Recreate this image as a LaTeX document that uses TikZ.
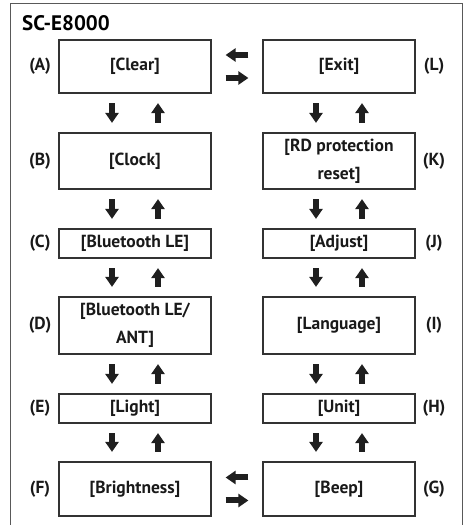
\documentclass[tikz,border=0pt]{standalone}
\usepackage{fontspec}
\setmainfont{PT Sans}
\usetikzlibrary{arrows.meta}
\begin{document}
\begin{tikzpicture}[x=1pt,y=1pt,
  box/.style={draw=black!80, line width=1.2pt, minimum width=152pt, inner sep=0pt, align=center,
    font=\fontsize{17.5}{28}\selectfont\bfseries, text=black!90},
  lbl/.style={font=\fontsize{17.5}{18}\selectfont\bfseries, text=black!90, inner sep=0pt},
  blk/.style={line width=6pt, line cap=butt, draw=black!88,
    -{Triangle[width=13pt,length=10pt]}, shorten >=9.5pt, shorten <=9.5pt},
  hblk/.style={line width=6pt, line cap=butt, draw=black!88,
    -{Triangle[width=13pt,length=10pt]}, shorten >=14pt, shorten <=14pt}
]
\useasboundingbox (0,0) rectangle (465,525);
% outer frame (open at bottom)
\draw[black!65, line width=1pt] (10,-2) -- (10,521) -- (462,521) -- (462,-2);
\node[anchor=base west, font=\fontsize{21}{22}\selectfont\bfseries, inner sep=0pt] (title) at (22,494) {SC-E8000};

% left column
\node[box, minimum height=53pt] (A) at (135,458.5) {[Clear]};
\node[box, minimum height=56pt] (B) at (135,364) {[Clock]};
\node[box, minimum height=29pt] (C) at (135,281.5) {[Bluetooth LE]};
\node[box, minimum height=57pt] (D) at (135,199.5) {[Bluetooth LE/\\ANT]};
\node[box, minimum height=29pt] (E) at (135,116.5) {[Light]};
\node[box, minimum height=54pt] (F) at (135,36) {[Brightness]};
% right column
\node[box, minimum height=53pt] (L) at (339,458.5) {[Exit]};
\node[box, minimum height=56pt] (K) at (339,364) {[RD protection\\reset]};
\node[box, minimum height=29pt] (J) at (339,281.5) {[Adjust]};
\node[box, minimum height=57pt] (I) at (339,199.5) {[Language]};
\node[box, minimum height=29pt] (H) at (339,116.5) {[Unit]};
\node[box, minimum height=54pt] (G) at (339,36) {[Beep]};

% labels
\node[lbl] (lA) at (40,458.5) {(A)};
\node[lbl] (lB) at (40,364) {(B)};
\node[lbl] (lC) at (40,281.5) {(C)};
\node[lbl] (lD) at (40,199.5) {(D)};
\node[lbl] (lE) at (40,116.5) {(E)};
\node[lbl] (lF) at (40,36) {(F)};
\node[lbl] (lL) at (434,458.5) {(L)};
\node[lbl] (lK) at (434,364) {(K)};
\node[lbl] (lJ) at (434,281.5) {(J)};
\node[lbl] (lI) at (434,199.5) {(I)};
\node[lbl] (lH) at (434,116.5) {(H)};
\node[lbl] (lG) at (434,36) {(G)};

% vertical arrows
\foreach \u/\v in {A/B,B/C,C/D,D/E,E/F,L/K,K/J,J/I,I/H,H/G}{
  \draw[blk] ([xshift=-23pt]\u.south) -- ([xshift=-23pt]\v.north);
  \draw[blk] ([xshift=23pt]\v.north) -- ([xshift=23pt]\u.south);
}
% horizontal arrows
\draw[hblk] ([yshift=11.5pt]L.west) -- ([yshift=11.5pt]A.east);
\draw[hblk] ([yshift=-11.5pt]A.east) -- ([yshift=-11.5pt]L.west);
\draw[hblk] ([yshift=11.5pt]G.west) -- ([yshift=11.5pt]F.east);
\draw[hblk] ([yshift=-11.5pt]F.east) -- ([yshift=-11.5pt]G.west);
\end{tikzpicture}
\end{document}
